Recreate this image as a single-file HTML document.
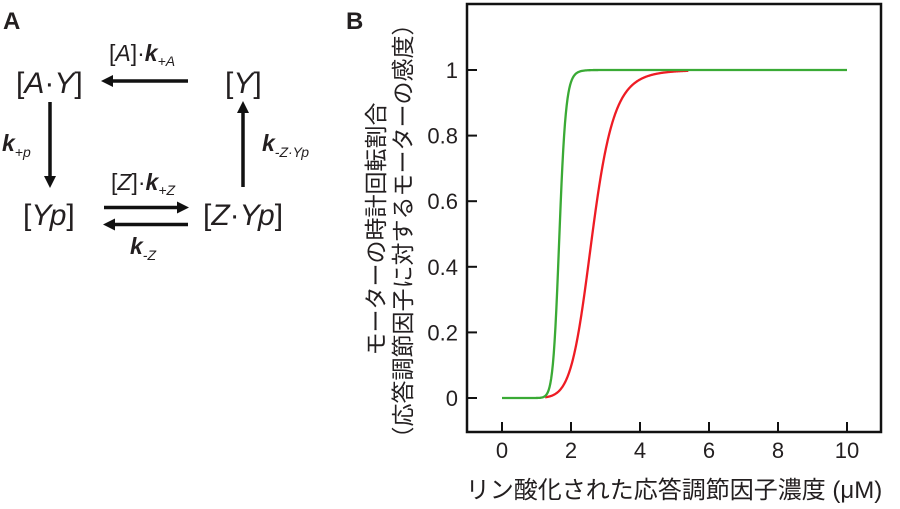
<!DOCTYPE html>
<html><head><meta charset="utf-8"><style>
html,body{margin:0;padding:0;background:#fff;}
svg{display:block;}
text{font-family:"Liberation Sans","Noto Sans CJK JP",sans-serif;fill:#231f20;}
</style></head><body>
<svg id="s" width="900" height="509" viewBox="0 0 900 509" xmlns="http://www.w3.org/2000/svg">
<!-- Panel A -->
<text x="3" y="29" font-size="24" font-weight="bold">A</text>
<text x="16" y="93" font-size="30">[<tspan font-style="italic">A</tspan>·<tspan font-style="italic">Y</tspan>]</text>
<text x="225" y="93" font-size="30">[<tspan font-style="italic">Y</tspan>]</text>
<text x="23" y="225" font-size="30">[<tspan font-style="italic">Yp</tspan>]</text>
<text x="203" y="225" font-size="30">[<tspan font-style="italic">Z</tspan>·<tspan font-style="italic">Yp</tspan>]</text>
<g stroke="#111" stroke-width="3.5" fill="none">
<line x1="188" y1="81" x2="110" y2="81"/>
<line x1="50" y1="102" x2="50" y2="178"/>
<line x1="104" y1="207.5" x2="180" y2="207.5"/>
<line x1="188" y1="224.5" x2="112" y2="224.5"/>
<line x1="243" y1="187" x2="243" y2="110"/>
</g>
<g fill="#111">
<path d="M101,81 L113,75 L113,87 z"/>
<path d="M50,188 L44,176 L56,176 z"/>
<path d="M189,207.5 L177,201.5 L177,213.5 z"/>
<path d="M103,224.5 L115,218.5 L115,230.5 z"/>
<path d="M243,101 L237,113 L249,113 z"/>
</g>
<text x="109" y="61" font-size="23">[<tspan font-style="italic">A</tspan>]·<tspan font-weight="bold" font-style="italic">k</tspan><tspan font-size="14" font-style="italic" dy="5">+A</tspan></text>
<text x="111" y="190" font-size="23">[<tspan font-style="italic">Z</tspan>]·<tspan font-weight="bold" font-style="italic">k</tspan><tspan font-size="14" font-style="italic" dy="5">+Z</tspan></text>
<text x="2" y="151" font-size="23" font-weight="bold" font-style="italic">k<tspan font-size="14" font-weight="normal" dy="6">+p</tspan></text>
<text x="130" y="254" font-size="23" font-weight="bold" font-style="italic">k<tspan font-size="14" font-weight="normal" dy="6">-Z</tspan></text>
<text x="262" y="151" font-size="23" font-weight="bold" font-style="italic">k<tspan font-size="14" font-weight="normal" dy="6">-Z·Yp</tspan></text>
<!-- Panel B -->
<text x="346" y="29" font-size="24" font-weight="bold">B</text>
<rect x="467" y="4" width="414" height="428" fill="none" stroke="#111" stroke-width="2.5"/>
<g stroke="#111" stroke-width="2">
<line x1="467" y1="70" x2="477" y2="70"/><line x1="467" y1="135.6" x2="477" y2="135.6"/>
<line x1="467" y1="201.2" x2="477" y2="201.2"/><line x1="467" y1="266.8" x2="477" y2="266.8"/>
<line x1="467" y1="332.4" x2="477" y2="332.4"/><line x1="467" y1="398" x2="477" y2="398"/>
<line x1="502" y1="432" x2="502" y2="422"/><line x1="571" y1="432" x2="571" y2="422"/>
<line x1="640" y1="432" x2="640" y2="422"/><line x1="709" y1="432" x2="709" y2="422"/>
<line x1="778" y1="432" x2="778" y2="422"/><line x1="847" y1="432" x2="847" y2="422"/>
</g>
<g font-size="22" text-anchor="end">
<text x="458" y="78">1</text><text x="458" y="143.6">0.8</text><text x="458" y="209.2">0.6</text>
<text x="458" y="274.8">0.4</text><text x="458" y="340.4">0.2</text><text x="458" y="406">0</text>
</g>
<g font-size="22" text-anchor="middle">
<text x="502" y="458">0</text><text x="571" y="458">2</text><text x="640" y="458">4</text>
<text x="709" y="458">6</text><text x="778" y="458">8</text><text x="847" y="458">10</text>
</g>
<text x="674" y="498" font-size="24" text-anchor="middle">リン酸化された応答調節因子濃度 (μM)</text>
<text transform="translate(384,229) rotate(-90)" font-size="23" text-anchor="middle">モーターの時計回転割合</text>
<text transform="translate(411,231) rotate(-90)" font-size="23" text-anchor="middle">（応答調節因子に対するモーターの感度）</text>
<path id="red" fill="none" stroke="#ee1c24" stroke-width="2.3"/>
<path id="grn" fill="none" stroke="#3aaa35" stroke-width="2.3"/>
</svg>
<script>
function mk(K,n,x0,x1){var d="";for(var i=0;i<=400;i++){var x=x0+(x1-x0)*i/400;var y=Math.pow(x,n)/(Math.pow(x,n)+Math.pow(K,n));var px=502+34.5*x,py=398-328*y;d+=(i?"L":"M")+px.toFixed(2)+","+py.toFixed(2);}return d;}
document.getElementById("red").setAttribute("d",mk(2.62,8.3,1.25,5.4));
document.getElementById("grn").setAttribute("d",mk(1.665,17.8,0,10));
</script>
</body></html>
